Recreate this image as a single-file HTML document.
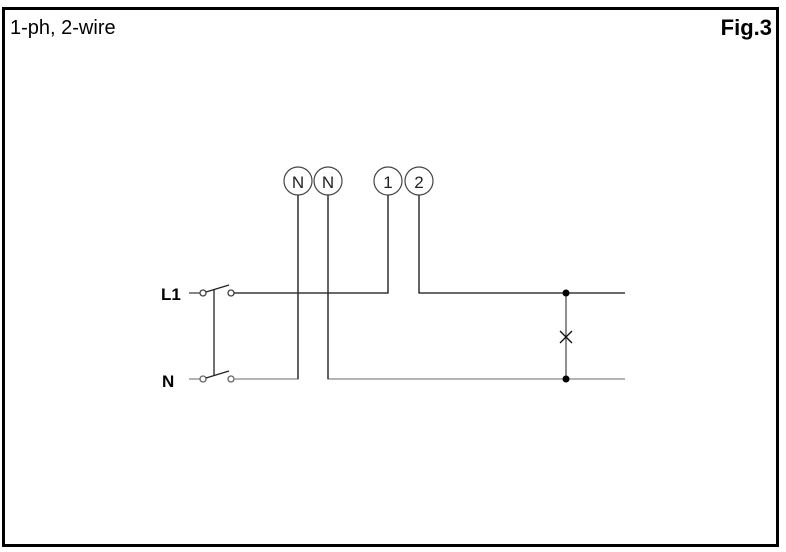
<!DOCTYPE html>
<html><head><style>
html,body{margin:0;padding:0;background:#fff;}
svg{display:block;}
text{font-family:"Liberation Sans",Arial,sans-serif;}
</style></head><body>
<svg width="786" height="552" viewBox="0 0 786 552" xmlns="http://www.w3.org/2000/svg">
<rect x="3.5" y="8.5" width="774" height="537" fill="#fff" stroke="#000" stroke-width="3"/>
<text x="10" y="34" font-size="20" fill="#000">1-ph, 2-wire</text>
<text x="772" y="35" font-size="22" font-weight="bold" text-anchor="end" fill="#000">Fig.3</text>
<text x="161" y="300" font-size="17" font-weight="bold">L1</text>
<text x="162" y="387" font-size="17" font-weight="bold">N</text>
<g fill="none" stroke-width="1.3">
<!-- L1 switch -->
<line x1="189" y1="293" x2="200" y2="293" stroke="#444"/>
<circle cx="203" cy="293" r="3" stroke="#444" fill="#fff"/>
<line x1="206" y1="292" x2="229" y2="285" stroke="#222"/>
<circle cx="231" cy="293" r="3" stroke="#444" fill="#fff"/>
<!-- N switch -->
<line x1="189" y1="379" x2="200" y2="379" stroke="#888"/>
<circle cx="203" cy="379" r="3" stroke="#666" fill="#fff"/>
<line x1="206" y1="378" x2="229" y2="371" stroke="#222"/>
<circle cx="231" cy="379" r="3" stroke="#666" fill="#fff"/>
<line x1="214" y1="289" x2="214" y2="375" stroke="#222"/>
<!-- L1 wire -->
<polyline points="234,293 388,293 388,195" stroke="#111"/>
<polyline points="419,195 419,293 625,293" stroke="#111"/>
<!-- N wires -->
<polyline points="234,379 298,379 298,195" stroke="#888"/>
<polyline points="328,195 328,379 625,379" stroke="#888"/>
<line x1="298" y1="195" x2="298" y2="379" stroke="#222"/>
<line x1="328" y1="195" x2="328" y2="379" stroke="#222"/>
<!-- load -->
<line x1="566" y1="293" x2="566" y2="379" stroke="#555"/>
<line x1="560" y1="331" x2="572" y2="343" stroke="#111"/>
<line x1="572" y1="331" x2="560" y2="343" stroke="#111"/>
</g>
<circle cx="566" cy="293" r="3.5" fill="#000"/>
<circle cx="566" cy="379" r="3.5" fill="#000"/>
<g fill="#fff" stroke="#444" stroke-width="1.2">
<circle cx="298" cy="181" r="14"/>
<circle cx="328" cy="181" r="14"/>
<circle cx="388" cy="181" r="14"/>
<circle cx="419" cy="181" r="14"/>
</g>
<g font-size="17" text-anchor="middle" fill="#222">
<text x="298" y="188">N</text>
<text x="328" y="188">N</text>
<text x="388" y="188">1</text>
<text x="419" y="188">2</text>
</g>
</svg>
</body></html>
